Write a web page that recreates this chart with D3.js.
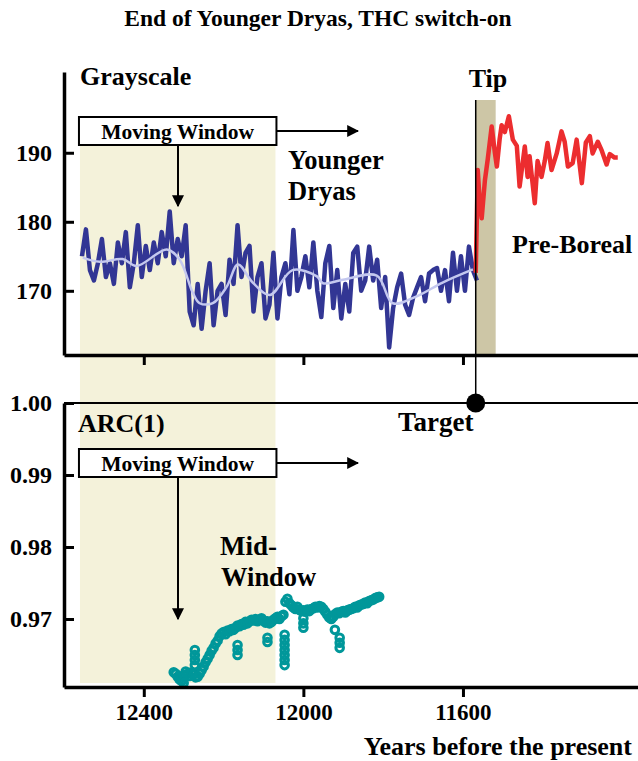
<!DOCTYPE html>
<html><head><meta charset="utf-8">
<script src="https://cdn.jsdelivr.net/npm/d3@7/dist/d3.min.js"></script>
<style>
html,body{margin:0;padding:0;background:#fff;}
text{font-family:"Liberation Serif","Times New Roman",serif;font-weight:bold;fill:#000;}
</style></head>
<body>
<svg id="c" width="638" height="761"></svg>
<script>
// ---------- data ----------
const xTicks = [12400, 12000, 11600];
const topTicks = [170, 180, 190];
const botTicks = [0.97, 0.98, 0.99, 1.00];

// grayscale (Younger Dryas), 10-year spacing starting 12555 BP
const grayStart = 12555, grayStep = 10;
const grayValues = [
 175,178.9,173,171.5,174,177.5,172,174,171,177,
 174,178.5,170.5,174,179.5,172,176.5,173,177,174,
 178.5,175,181.5,174,177.5,175,179.5,167,165,171,
 164.5,170,174,165,170,171,166.5,174.5,171,179.5,
 172,175.5,176.5,167,172,174,166,168,175.5,166,
 172,174,169.5,178.8,170,172,175,170.5,177,170,
 166.2,174,176.5,167.5,173,166,171,167,175.5,176.4,
 170,171.5,176.4,171.5,174.5,167.5,172,161.8,167.5,170.5,
 172.5,168,166.5,169,170.5,172,168.5,172.5,173,173.3,
 170,173,168.5,175.5,170,175,170,176.4,173,171.5
];
// smoothed grayscale
const smoothYears  = [12553,12510,12453,12418,12342,12310,12277,12260,12227,12192,12164,12127,12084,12027,11966,11951,11901,11816,11776,11716,11651,11575];
const smoothValues = [174.8,174.2,174.6,173.6,176.0,174.5,169.7,168.2,168.2,170.6,173.8,171.2,169.4,173.0,172.1,171.1,171.6,172.2,168.2,169.2,171.2,173.1];

// Pre-Boreal (after tip)
const redYears = [11568,11565,11563,11558,11553,11545,11538,11528,11520,11515,11508,11503,11495,11485,11475,11465,11458,11445,11438,11433,11420,11413,11403,11395,11388,11378,11365,11353,11345,11337,11325,11315,11302,11292,11282,11275,11262,11252,11240,11232,11220,11212];
const redValues = [172.6,181,187.5,183,180.5,186,189,193.8,190,188,192,194,193,195.3,191.9,191,185.1,190.9,186.5,189.5,182.7,188.8,186.5,188.8,191.4,187.5,189.9,193.1,191.6,188,188.5,191.9,185.6,191.5,192.4,189.9,191.6,190.3,188.3,189.8,189.3,189.3];

// ARC(1) at mid-window, 5-year spacing starting 12325 BP
const arcStart = 12325, arcStep = 5;
const arcValues = [
 0.9626,0.9624,0.9620,0.9616,0.9614, 0.9622,0.9627,0.9624,0.9621,0.9626,
 0.9623,0.9619,0.9620,0.9624,0.9629, 0.9634,0.9640,0.9645,0.9650,0.9656,
 0.9660,0.9666,0.9670,0.9676,0.9680, 0.9682,0.9679,0.9684,0.9683,0.9686,
 0.9685,0.9688,0.9691,0.9690,0.9693, 0.9692,0.9696,0.9694,0.9697,0.9699,
 0.9698,0.9700,0.9697,0.9699,0.9701, 0.9698,0.9695,0.9697,0.9694,0.9696,
 0.9699,0.9701,0.9703,0.9700,0.9704, 0.9706,0.9724,0.9728,0.9722,0.9719,
 0.9716,0.9714,0.9717,0.9713,0.9711, 0.9712,0.9710,0.9713,0.9711,0.9714,
 0.9715,0.9717,0.9716,0.9718,0.9717, 0.9714,0.9710,0.9706,0.9702,0.9700,
 0.9703,0.9707,0.9709,0.9708,0.9710, 0.9711,0.9709,0.9712,0.9713,0.9714,
 0.9715,0.9717,0.9716,0.9719,0.9720, 0.9721,0.9723,0.9722,0.9725,0.9726,
 0.9727,0.9729,0.9730,0.9731
];
// outlying ARC(1) estimates
const arcOutYears  = [12300,12272,12272,12272,12272,12165,12165,12165,12090,12090,12047,12047,12047,12047,12047,12047,12047,12000,12000,12000,11909,11909,11909,11921];
const arcOutValues = [0.9611,0.9657,0.9650,0.9643,0.9636,0.9664,0.9657,0.9650,0.9674,0.9668,0.9678,0.9671,0.9664,0.9657,0.9650,0.9643,0.9636,0.9701,0.9694,0.9688,0.9674,0.9667,0.9660,0.9685];

const windowYears = [12560, 12070];
const tipYears = [11568, 11518];

// ---------- drawing ----------
const svg = d3.select("#c");
const x = d3.scaleLinear().domain([12600, 11160]).range([64, 638.5]);
const yT = d3.scaleLinear().domain([160.7, 201.7]).range([355, 72]);
const yB = d3.scaleLinear().domain([0.96056, 1.0]).range([687, 403]);

const shade = "#f4f2da", tipCol = "#cdc6a6";

svg.append("rect").attr("x", x(windowYears[0])).attr("y", 145)
  .attr("width", x(windowYears[1]) - x(windowYears[0])).attr("height", 683 - 145)
  .attr("fill", shade);
svg.append("rect").attr("x", x(tipYears[0])).attr("y", 100)
  .attr("width", x(tipYears[1]) - x(tipYears[0])).attr("height", yT.range()[0] - 100)
  .attr("fill", tipCol);

svg.append("text").attr("x", 318).attr("y", 26).attr("text-anchor", "middle")
  .style("font-size", "23.5px").text("End of Younger Dryas, THC switch-on");

const grayData = grayValues.map((v, i) => [grayStart - i * grayStep, v]);
const lineT = d3.line().x(d => x(d[0])).y(d => yT(d[1]));
svg.append("path").datum(grayData).attr("d", lineT)
  .attr("fill", "none").attr("stroke", "#323694").attr("stroke-width", 4.5).attr("stroke-linejoin", "round");
svg.append("path").datum(smoothYears.map((yr, i) => [yr, smoothValues[i]]))
  .attr("d", d3.line().x(d => x(d[0])).y(d => yT(d[1])).curve(d3.curveCatmullRom))
  .attr("fill", "none").attr("stroke", "#c4c8ef").attr("stroke-width", 2.5);
svg.append("path").datum(redYears.map((yr, i) => [yr, redValues[i]]))
  .attr("d", lineT)
  .attr("fill", "none").attr("stroke", "#ec2d2f").attr("stroke-width", 4.5).attr("stroke-linejoin", "round");

const arcData = arcValues.map((v, i) => [arcStart - i * arcStep, v])
  .concat(arcOutYears.map((yr, i) => [yr, arcOutValues[i]]));
svg.append("g").selectAll("circle").data(arcData).join("circle")
  .attr("cx", d => x(d[0])).attr("cy", d => yB(d[1])).attr("r", 3.8)
  .attr("fill", "none").attr("stroke", "#00979a").attr("stroke-width", 3);

function styleAxis(g, w, fs) {
  g.select(".domain").attr("stroke-width", w);
  g.selectAll(".tick line").attr("stroke-width", 3);
  g.selectAll(".tick text").style("font-family", '"Liberation Serif",serif')
    .style("font-weight", "bold").style("font-size", (fs || 24) + "px");
}
const gyT = svg.append("g").attr("transform", "translate(64,0)")
  .call(d3.axisLeft(yT).tickValues(topTicks).tickSizeInner(-10).tickSizeOuter(0).tickPadding(12).tickFormat(d3.format("d")));
styleAxis(gyT, 3.5);
const gxT = svg.append("g").attr("transform", `translate(0,${yT.range()[0]})`)
  .call(d3.axisBottom(x).tickValues(xTicks).tickSizeInner(10).tickSizeOuter(0).tickFormat(""));
styleAxis(gxT, 3.5);

const gyB = svg.append("g").attr("transform", "translate(64,0)")
  .call(d3.axisLeft(yB).tickValues(botTicks).tickSizeInner(-10).tickSizeOuter(0).tickPadding(12).tickFormat(d3.format(".2f")));
styleAxis(gyB, 3.5);
const gxB = svg.append("g").attr("transform", `translate(0,${yB.range()[0]})`)
  .call(d3.axisBottom(x).tickValues(xTicks).tickSizeInner(10).tickSizeOuter(0).tickPadding(7).tickFormat(d3.format("d")));
styleAxis(gxB, 3.5, 23);

svg.append("line").attr("x1", 64).attr("x2", 638).attr("y1", yB(1.0)).attr("y2", yB(1.0))
  .attr("stroke", "#000").attr("stroke-width", 2);
svg.append("line").attr("x1", x(tipYears[0])).attr("x2", x(tipYears[0])).attr("y1", 100).attr("y2", yB(1.0))
  .attr("stroke", "#000").attr("stroke-width", 1.5);
svg.append("circle").attr("cx", x(tipYears[0])).attr("cy", yB(1.0)).attr("r", 9.5).attr("fill", "#000");

const defs = svg.append("defs");
defs.append("marker").attr("id", "ah").attr("viewBox", "0 0 10 10").attr("refX", 9).attr("refY", 5)
  .attr("markerWidth", 12).attr("markerHeight", 12).attr("markerUnits", "userSpaceOnUse").attr("orient", "auto")
  .append("path").attr("d", "M0,0 L10,5 L0,10 Z").attr("fill", "#000");

function movingBox(top, arrowTipY) {
  const x0 = x(windowYears[0]) - 1, x1 = x(windowYears[1]) + 1;
  const h = 28, cy = top + h / 2;
  svg.append("line").attr("x1", x1).attr("x2", 358).attr("y1", cy).attr("y2", cy)
    .attr("stroke", "#000").attr("stroke-width", 2).attr("marker-end", "url(#ah)");
  const cx = 178;
  svg.append("line").attr("x1", cx).attr("x2", cx).attr("y1", top + h).attr("y2", arrowTipY)
    .attr("stroke", "#000").attr("stroke-width", 2).attr("marker-end", "url(#ah)");
  svg.append("rect").attr("x", x0).attr("y", top).attr("width", x1 - x0).attr("height", h)
    .attr("fill", "#fff").attr("stroke", "#000").attr("stroke-width", 2);
  svg.append("text").attr("x", (x0 + x1) / 2).attr("y", top + 21.5).attr("text-anchor", "middle")
    .style("font-size", "21.5px").text("Moving Window");
}
movingBox(117, 206);
movingBox(449, 619);

function label(t, px, py, size, anchor) {
  svg.append("text").attr("x", px).attr("y", py).attr("text-anchor", anchor || "start")
    .style("font-size", size + "px").text(t);
}
label("Grayscale", 80, 85, 26);
label("Tip", 488, 87, 26, "middle");
label("Younger", 288, 169, 26.5);
label("Dryas", 288, 200, 26.5);
label("Pre-Boreal", 512, 253, 26);
label("ARC(1)", 78, 432, 26);
label("Target", 398, 431, 27);
label("Mid-", 220, 555, 27);
label("Window", 221, 586, 26.5);
label("Years before the present", 632, 755, 26, "end");
</script>
</body></html>
